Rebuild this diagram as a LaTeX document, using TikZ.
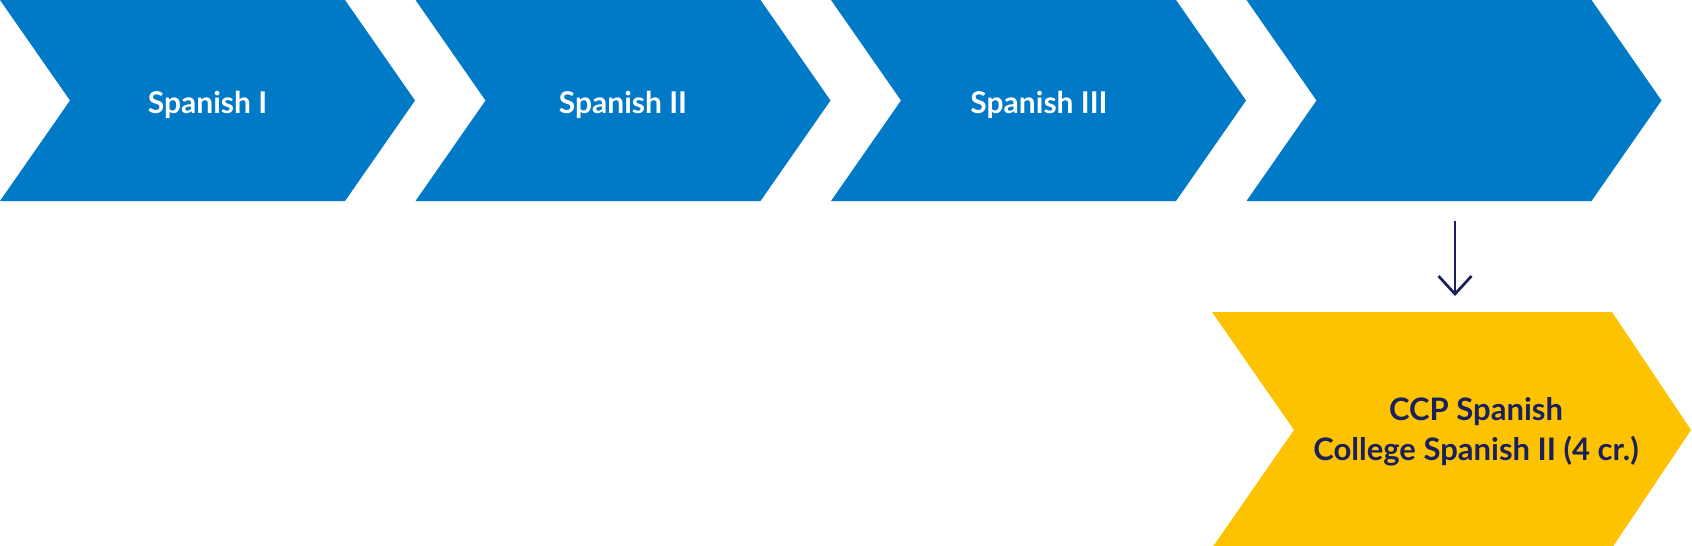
\documentclass[tikz,border=0pt]{standalone}
\usepackage{fontspec}
\setmainfont{Lato}
\usetikzlibrary{arrows.meta}
\definecolor{chevblue}{HTML}{007AC6}
\definecolor{chevgold}{HTML}{FDC300}
\definecolor{navy}{HTML}{1B1F5C}
\tikzset{
  bluechev/.style={fill=chevblue, draw=none},
  goldchev/.style={fill=chevgold, draw=none},
  bluelabel/.style={text=white, font=\fontsize{15}{17}\selectfont\bfseries, anchor=base, inner sep=0pt},
  goldlabel/.style={text=navy, font=\fontsize{15.5}{20}\selectfont\bfseries, anchor=base, inner sep=0pt},
  downarrow/.style={draw=navy, line width=1.35pt, -{Straight Barb[length=9pt,width=16.5pt,line width=1.35pt]}}
}
\begin{document}
\begin{tikzpicture}[x=0.5pt,y=-0.5pt]
\useasboundingbox (0,0) rectangle (1692,546);
\fill[white] (0,0) rectangle (1692,546);
\foreach \i in {0,1,2,3}{
  \pgfmathsetmacro{\xo}{415.5*\i}
  \fill[bluechev] (\xo,0) -- ++(345,0) -- ++(70,100.5) -- ++(-70,100.5) -- ++(-345,0) -- ++(70,-100.5) -- cycle;
}
\begin{scope}
\clip (0,0) rectangle (1692,546);
\fill[goldchev] (1212,312) -- (1612,312) -- (1691,430) -- (1612,548) -- (1212,548) -- (1294,430) -- cycle;
\end{scope}
\node[bluelabel] (s1) at (207.5,113) {Spanish I};
\node[bluelabel] (s2) at (623,113) {Spanish II};
\node[bluelabel] (s3) at (1039,113) {Spanish III};
\node[goldlabel] (ccp1) at (1476,420) {CCP Spanish};
\node[goldlabel] (ccp2) at (1476,460) {College Spanish II (4 cr.)};
\coordinate (atop) at (1455,221);
\coordinate (abot) at (1455,296);
\draw[downarrow] (atop) -- (abot);
\end{tikzpicture}
\end{document}
